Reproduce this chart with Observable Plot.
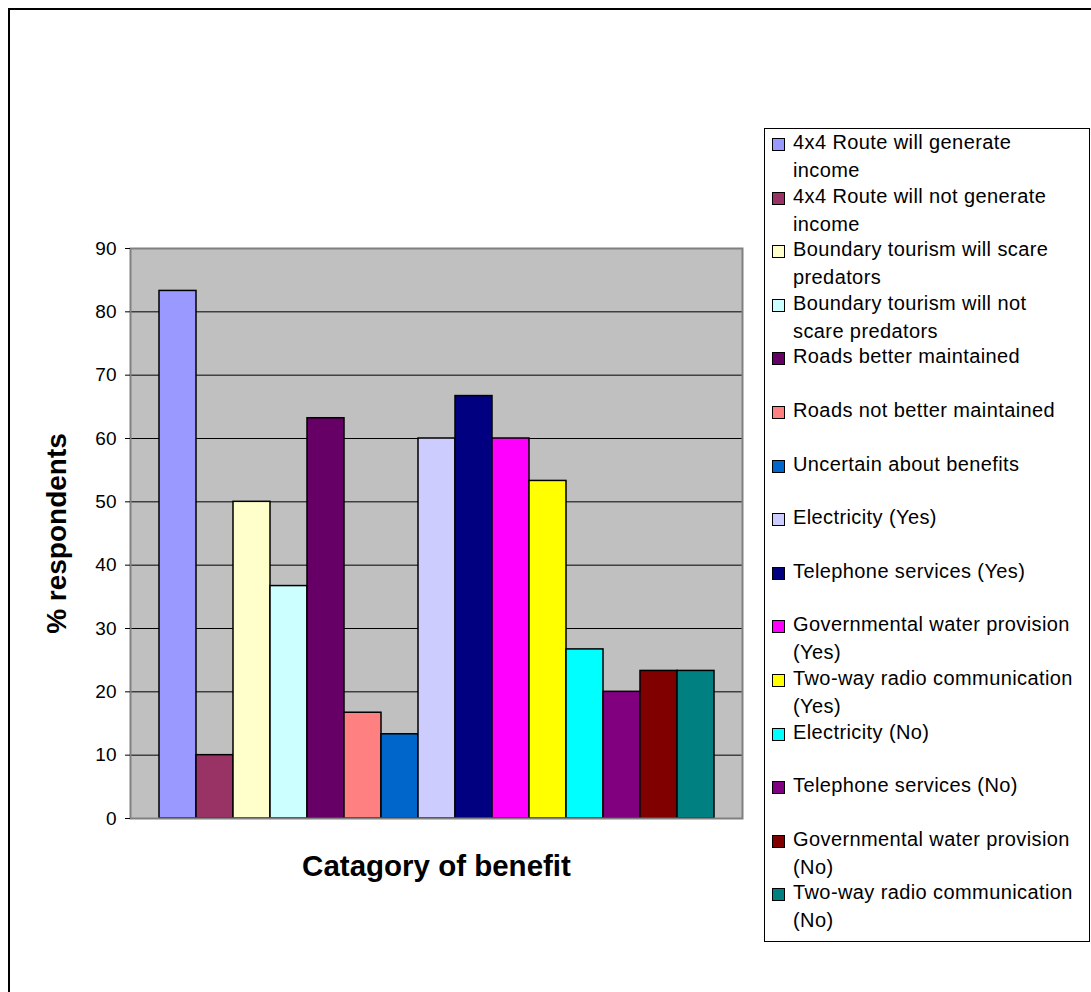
<!DOCTYPE html>
<html>
<head>
<meta charset="utf-8">
<script src="https://cdn.jsdelivr.net/npm/d3@7"></script>
<script src="https://cdn.jsdelivr.net/npm/@observablehq/plot@0.6"></script>
<style>
  html, body { margin: 0; padding: 0; background: #fff; overflow: hidden; }
  #wrap { position: relative; width: 1091px; height: 992px; overflow: hidden; font-family: "Liberation Sans", Arial, sans-serif; }
  #border { position: absolute; left: 8px; top: 8px; width: 1100px; height: 1000px; border: 2px solid #000; box-sizing: border-box; }
  #chart { position: absolute; left: 0; top: 0; }
  #legend { position: absolute; left: 764px; top: 128px; width: 326px; height: 814px; border: 1px solid #000; box-sizing: border-box; background: #fff; overflow: hidden; }
  .item { position: absolute; left: 0; width: 330px; font-size: 20px; line-height: 28px; color: #000; letter-spacing: 0.4px; white-space: nowrap; }
  .sw { position: absolute; left: 7px; top: 10px; width: 11px; height: 11px; border: 1px solid #000; }
  .lab { position: absolute; left: 28px; top: 0; }
</style>
</head>
<body>
<div id="wrap">
  <div id="border"></div>
  <div id="chart"></div>
  <div id="legend"></div>
</div>
<script>
const categories = [
  "4x4 Route will generate income",
  "4x4 Route will not generate income",
  "Boundary tourism will scare predators",
  "Boundary tourism will not scare predators",
  "Roads better maintained",
  "Roads not better maintained",
  "Uncertain about benefits",
  "Electricity (Yes)",
  "Telephone services (Yes)",
  "Governmental water provision (Yes)",
  "Two-way radio communication (Yes)",
  "Electricity (No)",
  "Telephone services (No)",
  "Governmental water provision (No)",
  "Two-way radio communication (No)"
];
const values = [83.3, 10, 50, 36.7, 63.2, 16.7, 13.3, 60, 66.7, 60, 53.3, 26.7, 20, 23.3, 23.3];
const colors = ["#9999FF", "#993366", "#FFFFCC", "#CCFFFF", "#660066", "#FF8080", "#0066CC", "#CCCCFF", "#000080", "#FF00FF", "#FFFF00", "#00FFFF", "#800080", "#800000", "#008080"];
const legendLines = [
  ["4x4 Route will generate", "income"],
  ["4x4 Route will not generate", "income"],
  ["Boundary tourism will scare", "predators"],
  ["Boundary tourism will not", "scare predators"],
  ["Roads better maintained"],
  ["Roads not better maintained"],
  ["Uncertain about benefits"],
  ["Electricity (Yes)"],
  ["Telephone services (Yes)"],
  ["Governmental water provision", "(Yes)"],
  ["Two-way radio communication", "(Yes)"],
  ["Electricity (No)"],
  ["Telephone services (No)"],
  ["Governmental water provision", "(No)"],
  ["Two-way radio communication", "(No)"]
];
const yTicks = [0, 10, 20, 30, 40, 50, 60, 70, 80, 90];
const yTitle = "% respondents";
const xTitle = "Catagory of benefit";

const data = categories.map((c, i) => ({category: c, value: values[i]}));

const chart = Plot.plot({
  width: 1091,
  height: 992,
  marginLeft: 130,
  marginRight: 349,
  marginTop: 248,
  marginBottom: 174,
  style: {background: "transparent", fontFamily: "'Liberation Sans', Arial, sans-serif", color: "#000"},
  x: {type: "band", domain: categories, paddingInner: 0, paddingOuter: 0.77, axis: null},
  y: {domain: [0, 90], axis: null},
  color: {domain: categories, range: colors},
  marks: [
    Plot.frame({fill: "#C0C0C0", stroke: "none"}),
    Plot.gridY(yTicks.filter(t => t > 0 && t < 90), {stroke: "#000", strokeOpacity: 1, strokeWidth: 1}),
    Plot.barY(data, {x: "category", y: "value", fill: "category", stroke: "#000", strokeWidth: 1.5}),
    Plot.frame({stroke: "#808080", strokeWidth: 2}),
    Plot.axisY(yTicks, {anchor: "left", tickSize: 5, tickPadding: 9, fontSize: 19, stroke: "#000", label: null}),
    Plot.text([yTitle], {frameAnchor: "left", textAnchor: "middle", dx: -73, rotate: -90, fontSize: 28, fontWeight: "bold", fill: "#000"}),
    Plot.text([xTitle], {frameAnchor: "bottom", dy: 57, fontSize: 29.5, fontWeight: "bold", fill: "#000"})
  ]
});
document.getElementById("chart").appendChild(chart);

const legend = document.getElementById("legend");
legendLines.forEach((lines, i) => {
  const item = document.createElement("div");
  item.className = "item";
  item.style.top = (i * 53.6 - 1) + "px";
  const sw = document.createElement("div");
  sw.className = "sw";
  sw.style.background = colors[i];
  item.appendChild(sw);
  const lab = document.createElement("div");
  lab.className = "lab";
  lab.innerHTML = lines.join("<br>");
  item.appendChild(lab);
  legend.appendChild(item);
});
</script>
</body>
</html>
